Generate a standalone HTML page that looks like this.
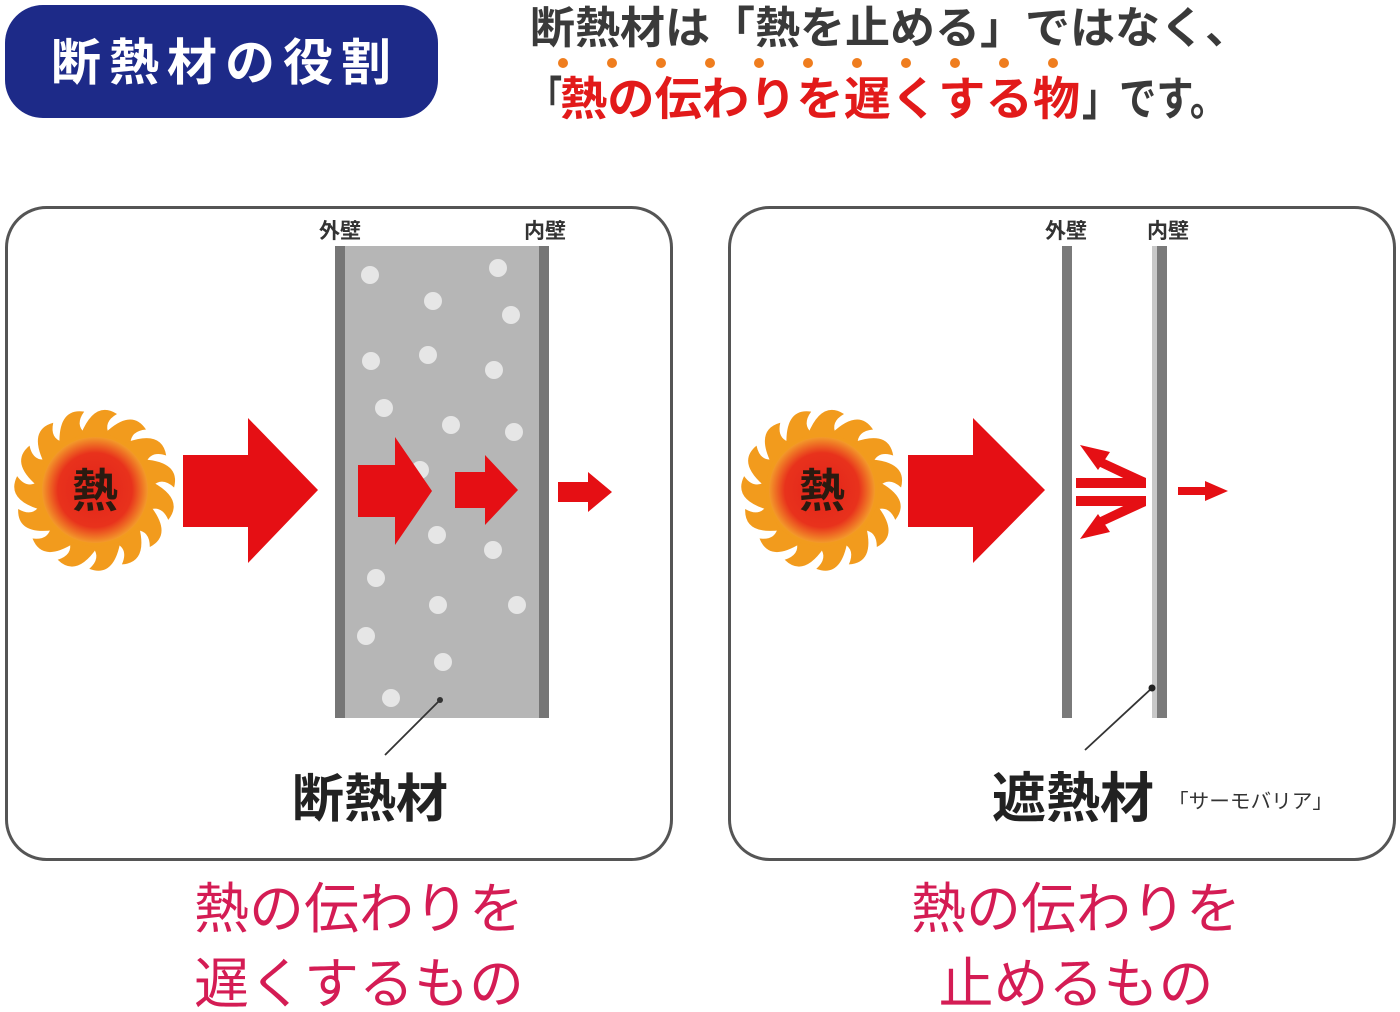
<!DOCTYPE html>
<html><head><meta charset="utf-8">
<style>
html,body{margin:0;padding:0;background:#fff;}
svg{display:block;}
text{font-family:"Liberation Sans","Noto Sans CJK JP",sans-serif;}
</style></head>
<body>
<svg width="1400" height="1012" viewBox="0 0 1400 1012" xmlns="http://www.w3.org/2000/svg">
<defs>
  <radialGradient id="core" cx="50%" cy="50%" r="50%">
    <stop offset="0" stop-color="#e2231a"/>
    <stop offset="0.7" stop-color="#e8321c"/>
    <stop offset="1" stop-color="#f39a2a"/>
  </radialGradient>
  <g id="sun">
    <circle r="60" fill="#f29b1d"/>
    <g fill="#f29b1d">
      <path d="M-14,-56 Q0,-90 22,-76 Q8,-68 14,-56 Z" transform="rotate(0)"/>
      <path d="M-14,-56 Q0,-90 22,-76 Q8,-68 14,-56 Z" transform="rotate(24)"/>
      <path d="M-14,-56 Q0,-90 22,-76 Q8,-68 14,-56 Z" transform="rotate(48)"/>
      <path d="M-14,-56 Q0,-90 22,-76 Q8,-68 14,-56 Z" transform="rotate(72)"/>
      <path d="M-14,-56 Q0,-90 22,-76 Q8,-68 14,-56 Z" transform="rotate(96)"/>
      <path d="M-14,-56 Q0,-90 22,-76 Q8,-68 14,-56 Z" transform="rotate(120)"/>
      <path d="M-14,-56 Q0,-90 22,-76 Q8,-68 14,-56 Z" transform="rotate(144)"/>
      <path d="M-14,-56 Q0,-90 22,-76 Q8,-68 14,-56 Z" transform="rotate(168)"/>
      <path d="M-14,-56 Q0,-90 22,-76 Q8,-68 14,-56 Z" transform="rotate(192)"/>
      <path d="M-14,-56 Q0,-90 22,-76 Q8,-68 14,-56 Z" transform="rotate(216)"/>
      <path d="M-14,-56 Q0,-90 22,-76 Q8,-68 14,-56 Z" transform="rotate(240)"/>
      <path d="M-14,-56 Q0,-90 22,-76 Q8,-68 14,-56 Z" transform="rotate(264)"/>
      <path d="M-14,-56 Q0,-90 22,-76 Q8,-68 14,-56 Z" transform="rotate(288)"/>
      <path d="M-14,-56 Q0,-90 22,-76 Q8,-68 14,-56 Z" transform="rotate(312)"/>
      <path d="M-14,-56 Q0,-90 22,-76 Q8,-68 14,-56 Z" transform="rotate(336)"/>
    </g>
    <circle r="53" fill="url(#core)"/>
    <text x="0" y="17" text-anchor="middle" font-size="46" font-weight="bold" fill="#2a1a10">熱</text>
  </g>
</defs>

<!-- title pill -->
<rect x="5" y="5" width="433" height="113" rx="38" fill="#1d2a88"/>
<text x="221" y="80" text-anchor="middle" font-size="50" font-weight="bold" fill="#fff" textLength="340">断熱材の役割</text>

<!-- heading -->
<text x="530" y="43" font-size="44" font-weight="bold" fill="#3a3a3a" textLength="720" lengthAdjust="spacingAndGlyphs">断熱材は「熱を止める」ではなく、</text>
<g fill="#ef7d1e">
  <circle cx="563" cy="63" r="5"/><circle cx="612" cy="63" r="5"/><circle cx="661" cy="63" r="5"/><circle cx="710" cy="63" r="5"/><circle cx="759" cy="63" r="5"/><circle cx="808" cy="63" r="5"/><circle cx="857" cy="63" r="5"/><circle cx="906" cy="63" r="5"/><circle cx="955" cy="63" r="5"/><circle cx="1004" cy="63" r="5"/><circle cx="1053" cy="63" r="5"/>
</g>
<text x="530" y="115" font-size="46" font-weight="bold" fill="#3a3a3a" textLength="32" lengthAdjust="spacingAndGlyphs">「</text>
<text x="560" y="115" font-size="46" font-weight="bold" fill="#e21a1a" textLength="520" lengthAdjust="spacingAndGlyphs">熱の伝わりを遅くする物</text>
<text x="1082" y="115" font-size="46" font-weight="bold" fill="#3a3a3a" textLength="145" lengthAdjust="spacingAndGlyphs">」です。</text>

<!-- panels -->
<rect x="6.5" y="207.5" width="665" height="652" rx="40" fill="#fff" stroke="#555" stroke-width="3"/>
<rect x="729.5" y="207.5" width="665" height="652" rx="40" fill="#fff" stroke="#555" stroke-width="3"/>

<!-- left: insulation block -->
<text x="340" y="238" text-anchor="middle" font-size="21" font-weight="bold" fill="#333">外壁</text>
<text x="545" y="238" text-anchor="middle" font-size="21" font-weight="bold" fill="#333">内壁</text>
<rect x="335" y="246" width="214" height="472" fill="#b6b6b6"/>
<rect x="335" y="246" width="10" height="472" fill="#767676"/>
<rect x="539" y="246" width="10" height="472" fill="#767676"/>
<g fill="#e6e6e6">
  <circle cx="370" cy="275" r="9"/><circle cx="433" cy="301" r="9"/><circle cx="498" cy="268" r="9"/><circle cx="511" cy="315" r="9"/>
  <circle cx="371" cy="361" r="9"/><circle cx="428" cy="355" r="9"/><circle cx="494" cy="370" r="9"/><circle cx="384" cy="408" r="9"/>
  <circle cx="451" cy="425" r="9"/><circle cx="514" cy="432" r="9"/><circle cx="420" cy="470" r="9"/><circle cx="437" cy="535" r="9"/>
  <circle cx="493" cy="550" r="9"/><circle cx="376" cy="578" r="9"/><circle cx="438" cy="605" r="9"/><circle cx="517" cy="605" r="9"/>
  <circle cx="366" cy="636" r="9"/><circle cx="443" cy="662" r="9"/><circle cx="391" cy="698" r="9"/>
</g>

<use href="#sun" x="95" y="490"/>
<g fill="#e50f14">
  <polygon points="183,455 248,455 248,418 318,490 248,563 248,527 183,527"/>
  <polygon points="358,465 395,465 395,437 432,491 395,545 395,517 358,517"/>
  <polygon points="455,472 485,472 485,455 518,490 485,525 485,508 455,508"/>
  <polygon points="558,482 588,482 588,472 612,492 588,512 588,502 558,502"/>
</g>
<line x1="385" y1="755" x2="440" y2="700" stroke="#333" stroke-width="1.8"/>
<circle cx="440" cy="700" r="3" fill="#333"/>
<text x="370" y="817" text-anchor="middle" font-size="52" font-weight="bold" fill="#222">断熱材</text>

<!-- right: walls -->
<text x="1066" y="238" text-anchor="middle" font-size="21" font-weight="bold" fill="#333">外壁</text>
<text x="1168" y="238" text-anchor="middle" font-size="21" font-weight="bold" fill="#333">内壁</text>
<rect x="1062" y="246" width="10" height="472" fill="#7a7a7a"/>
<rect x="1152" y="246" width="5" height="472" fill="#c8c8c8"/>
<rect x="1157" y="246" width="10" height="472" fill="#7a7a7a"/>

<use href="#sun" x="822" y="490"/>
<g fill="#e50f14">
  <polygon points="908,455 973,455 973,418 1045,490 973,563 973,527 908,527"/>
  <polygon points="1076,478 1146,478 1146,488 1076,488"/>
  <polygon points="1076,496 1146,496 1146,506 1076,506"/>
  <polygon points="1146,478 1098,456 1094,464 1140,486"/>
  <polygon points="1146,506 1098,528 1094,520 1140,498"/>
  <polygon points="1080,445 1110,452 1098,470"/>
  <polygon points="1080,539 1110,532 1098,514"/>
  <polygon points="1178,487 1205,487 1205,481 1228,491 1205,501 1205,495 1178,495"/>
</g>
<line x1="1085" y1="750" x2="1152" y2="688" stroke="#333" stroke-width="1.8"/>
<circle cx="1152" cy="688" r="3.5" fill="#222"/>
<text x="1073" y="817" text-anchor="middle" font-size="54" font-weight="bold" fill="#222">遮熱材</text>
<text x="1168" y="808" font-size="20" fill="#333" textLength="165" lengthAdjust="spacingAndGlyphs">「サーモバリア」</text>

<!-- bottom captions -->
<g fill="#d41c54" font-size="55" text-anchor="middle">
  <text x="359" y="928">熱の伝わりを</text>
  <text x="359" y="1003">遅くするもの</text>
  <text x="1076" y="928">熱の伝わりを</text>
  <text x="1076" y="1003">止めるもの</text>
</g>
</svg>
</body></html>
